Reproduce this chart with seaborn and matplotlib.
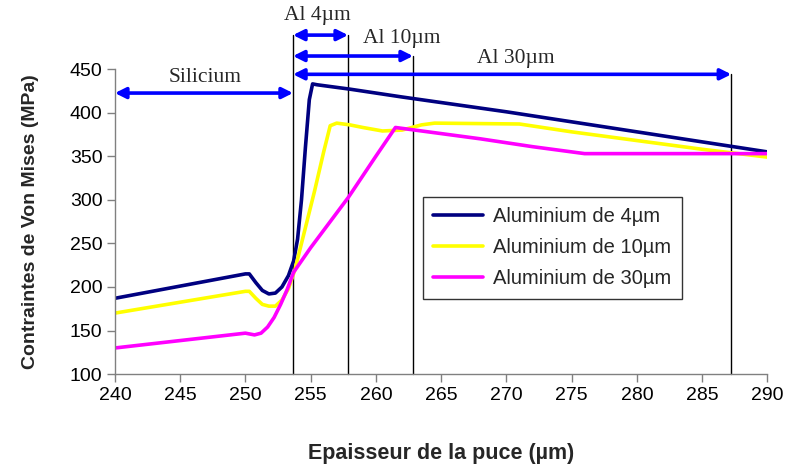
import numpy as np
import pandas as pd
import matplotlib
matplotlib.use("Agg")
import matplotlib.pyplot as plt
import seaborn as sns

# ---- data ----
x_4 = [240, 250, 250.3, 250.8, 251.3, 251.8, 252.3, 252.8, 253.3, 253.7, 254.0, 254.3, 254.6, 254.9, 255.15, 255.5, 258, 262, 270, 280, 290]
y_4 = [187, 215, 215, 205, 196, 192, 193, 200, 213, 230, 255, 300, 360, 415, 433, 432, 427, 418, 401, 378, 355]

x_10 = [240, 250, 250.3, 250.8, 251.3, 251.8, 252.3, 252.8, 253.3, 253.8, 254.5, 255.3, 256.0, 256.5, 257.0, 258, 259, 260.5, 262, 263.5, 264.5, 271, 275, 280, 285, 290]
y_10 = [170, 195, 195, 187, 180, 178, 178, 185, 198, 220, 262, 310, 355, 385, 388, 386, 383, 379, 380, 386, 388, 387, 378, 368, 358, 349]

x_30 = [240, 250, 250.7, 251.2, 251.7, 252.2, 252.7, 253.2, 253.7, 255, 257.9, 260, 261.5, 264, 268, 272, 276, 280, 290]
y_30 = [130, 147, 145, 147, 154, 165, 180, 197, 217, 245, 303, 350, 383, 378, 370, 361, 353, 353, 353]

series_labels = ["Aluminium de 4µm", "Aluminium de 10µm", "Aluminium de 30µm"]
series_colors = ["#000080", "#FFFF00", "#FF00FF"]

# region boundaries (x) and annotation labels
x_si_start = 240
x_boundaries = [253.65, 257.87, 262.85, 287.24]
region_labels = ["Silicium", "Al 4µm", "Al 10µm", "Al 30µm"]

x_ticks = list(range(240, 291, 5))
y_ticks = list(range(100, 451, 50))

# ---- build long table ----
frames = []
for xs, ys, lab in zip([x_4, x_10, x_30], [y_4, y_10, y_30], series_labels):
    frames.append(pd.DataFrame({"x": xs, "y": ys, "serie": lab}))
df = pd.concat(frames, ignore_index=True)

sns.set_style("ticks")
plt.rcParams["font.family"] = ["Liberation Sans", "DejaVu Sans"]

fig = plt.figure(figsize=(7.87, 4.70), dpi=100)
ax = fig.add_axes([0.146, 0.204, 0.829, 0.649])

sns.lineplot(data=df, x="x", y="y", hue="serie", palette=dict(zip(series_labels, series_colors)),
             hue_order=series_labels, sort=False, estimator=None, linewidth=2.6, ax=ax)

ax.set_xlim(240, 290)
ax.set_ylim(100, 450)
ax.set_xticks(x_ticks)
ax.set_yticks(y_ticks)
ax.tick_params(axis="both", labelsize=14, colors="#808080", labelcolor="black", length=6, width=1,
               direction="out", pad=3)
sns.despine(ax=ax)
for s in ["left", "bottom"]:
    ax.spines[s].set_color("#808080")
    ax.spines[s].set_linewidth(1)

ax.set_xlabel("Epaisseur de la puce (µm)", fontsize=15.5, fontweight="bold", labelpad=28)
ax.set_ylabel("Contraintes de Von Mises (MPa)", fontsize=14, fontweight="bold", labelpad=22)

# vertical boundary lines
line_tops = [489, 489, 465, 444]
for xb, yt in zip(x_boundaries, line_tops):
    ax.plot([xb, xb], [100, yt], color="black", lw=1, clip_on=False, zorder=1)

# arrows
arrow_kw = dict(arrowstyle="<|-|>", color="#0000FF", lw=2.6, mutation_scale=16, shrinkA=0, shrinkB=0)
arrows = [
    (x_si_start, x_boundaries[0], 422.5),
    (x_boundaries[0], x_boundaries[1], 489),
    (x_boundaries[0], x_boundaries[2], 465),
    (x_boundaries[0], x_boundaries[3], 444),
]
for x0, x1, yy in arrows:
    ax.annotate("", xy=(x1, yy), xytext=(x0, yy), arrowprops=arrow_kw, annotation_clip=False)

text_pos = [(246.9, 440.8), (255.5, 512), (262.0, 485.5), (270.7, 462.6)]
for (tx, ty), lab in zip(text_pos, region_labels):
    ax.text(tx, ty, lab, ha="center", va="center", fontsize=15.5,
            family=["Liberation Serif", "DejaVu Serif"], clip_on=False)

leg = ax.legend(loc="upper left", bbox_to_anchor=(0.472, 0.58), fontsize=14.5, frameon=True,
                fancybox=False, edgecolor="black", handlelength=2.5, labelspacing=0.6,
                borderpad=0.5, handletextpad=0.5, borderaxespad=0, title=None)
leg.get_frame().set_linewidth(1)

fig.savefig("out.png", dpi=100)
